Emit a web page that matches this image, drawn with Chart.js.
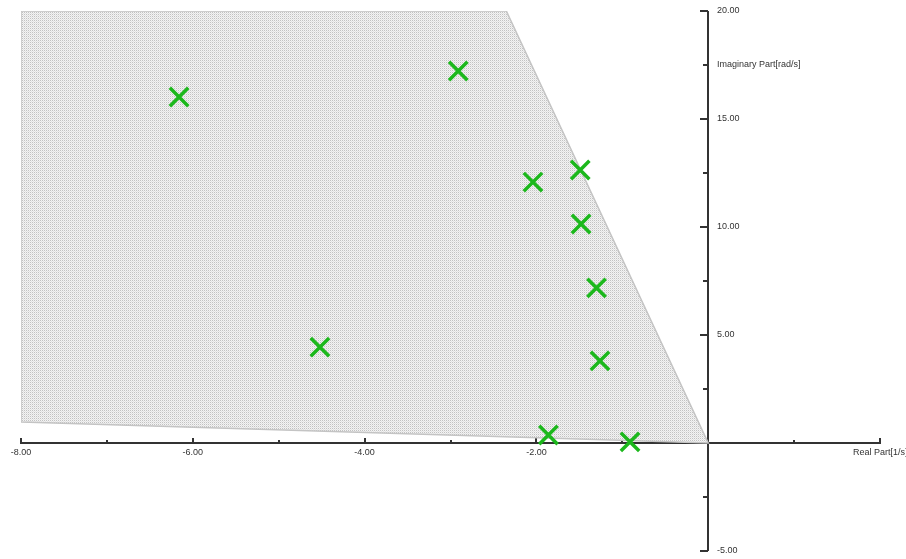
<!DOCTYPE html>
<html>
<head>
<meta charset="utf-8">
<script src="https://cdn.jsdelivr.net/npm/chart.js"></script>
<style>
  html, body { margin: 0; padding: 0; background: #fff; }
  #wrap { width: 906px; height: 559px; }
</style>
</head>
<body>
<div id="wrap"><canvas id="myChart"></canvas></div>
<script>
// poles (real, imaginary)
const poleReal = [-6.16, -2.91, -2.04, -1.49, -1.48, -1.30, -4.52, -1.26, -1.86, -0.91];
const poleImag = [16.02, 17.22, 12.08, 12.64, 10.14, 7.18, 4.44, 3.80, 0.37, 0.05];

// allowed region outline
const regionReal = [-8, -2.35, 0, -8, -8];
const regionImag = [20, 20, 0, 0.97, 20];

// ticks
const xTickValues = [-8, -6, -4, -2, 2];
const xTickLabels = ['-8.00', '-6.00', '-4.00', '-2.00', ''];
const xMinorValues = [-7, -5, -3, -1, 1];
const yTickValues = [20, 15, 10, 5, -5];
const yTickLabels = ['20.00', '15.00', '10.00', '5.00', '-5.00'];
const yMinorValues = [17.5, 12.5, 7.5, 2.5, -2.5];

// dotted fill
function dotPattern() {
  const c = document.createElement('canvas');
  c.width = 2; c.height = 2;
  const g = c.getContext('2d');
  g.fillStyle = '#f3f3f3';
  g.fillRect(0, 0, 2, 2);
  g.fillStyle = '#c2c2c2';
  g.fillRect(0, 0, 1, 1);
  g.fillStyle = '#e2e2e2';
  g.fillRect(1, 1, 1, 1);
  return g.createPattern(c, 'repeat');
}

const zeroAxes = {
  id: 'zeroAxes',
  beforeDatasetsDraw(chart) {
    const ctx = chart.ctx;
    const xs = chart.scales.x, ys = chart.scales.y;
    const x0 = Math.round(xs.getPixelForValue(0));
    const y0 = Math.round(ys.getPixelForValue(0));
    ctx.save();
    ctx.strokeStyle = '#333';
    ctx.lineWidth = 2;
    ctx.beginPath();
    ctx.moveTo(xs.left, y0); ctx.lineTo(xs.right, y0);
    ctx.moveTo(x0, ys.top); ctx.lineTo(x0, ys.bottom);
    // x ticks
    xTickValues.forEach(v => {
      const px = Math.round(xs.getPixelForValue(v));
      ctx.moveTo(px, y0 - 5); ctx.lineTo(px, y0 + 1);
    });
    xMinorValues.forEach(v => {
      const px = Math.round(xs.getPixelForValue(v));
      ctx.moveTo(px, y0 - 3); ctx.lineTo(px, y0 + 1);
    });
    // y ticks
    yTickValues.forEach(v => {
      const py = Math.round(ys.getPixelForValue(v));
      ctx.moveTo(x0 - 8, py); ctx.lineTo(x0, py);
    });
    yMinorValues.forEach(v => {
      const py = Math.round(ys.getPixelForValue(v));
      ctx.moveTo(x0 - 5, py); ctx.lineTo(x0, py);
    });
    ctx.stroke();

    ctx.fillStyle = '#333';
    ctx.font = '9px "Liberation Sans", Arial, sans-serif';
    ctx.textAlign = 'center';
    ctx.textBaseline = 'middle';
    xTickValues.forEach((v, i) => {
      ctx.fillText(xTickLabels[i], xs.getPixelForValue(v), y0 + 10);
    });
    ctx.textAlign = 'left';
    yTickValues.forEach((v, i) => {
      ctx.fillText(yTickLabels[i], x0 + 9, ys.getPixelForValue(v));
    });
    ctx.fillText('Imaginary Part[rad/s]', x0 + 9, ys.getPixelForValue(17.5));
    ctx.fillText('Real Part[1/s]', 853, y0 + 10);
    ctx.restore();
  }
};

const ctx = document.getElementById('myChart').getContext('2d');
const myChart = new Chart(ctx, {
  type: 'scatter',
  data: {
    datasets: [
      {
        label: 'Poles',
        data: poleReal.map((x, i) => ({ x: x, y: poleImag[i] })),
        pointStyle: 'crossRot',
        pointRadius: 13,
        pointHoverRadius: 13,
        borderColor: '#1cb81c',
        borderWidth: 3.5,
        order: 0
      },
      {
        label: 'Region',
        data: regionReal.map((x, i) => ({ x: x, y: regionImag[i] })),
        showLine: true,
        fill: 'shape',
        tension: 0,
        backgroundColor: dotPattern(),
        borderColor: '#c4c4c4',
        borderWidth: 1.5,
        pointRadius: 0,
        pointHoverRadius: 0,
        order: 1
      }
    ]
  },
  options: {
    responsive: true,
    maintainAspectRatio: false,
    animation: false,
    layout: { autoPadding: false, padding: { left: 21, right: 26, top: 11, bottom: 8 } },
    scales: {
      x: { type: 'linear', min: -8, max: 2, display: false },
      y: { type: 'linear', min: -5, max: 20, display: false }
    },
    plugins: {
      legend: { display: false },
      tooltip: { enabled: false }
    }
  },
  plugins: [zeroAxes]
});
</script>
</body>
</html>
